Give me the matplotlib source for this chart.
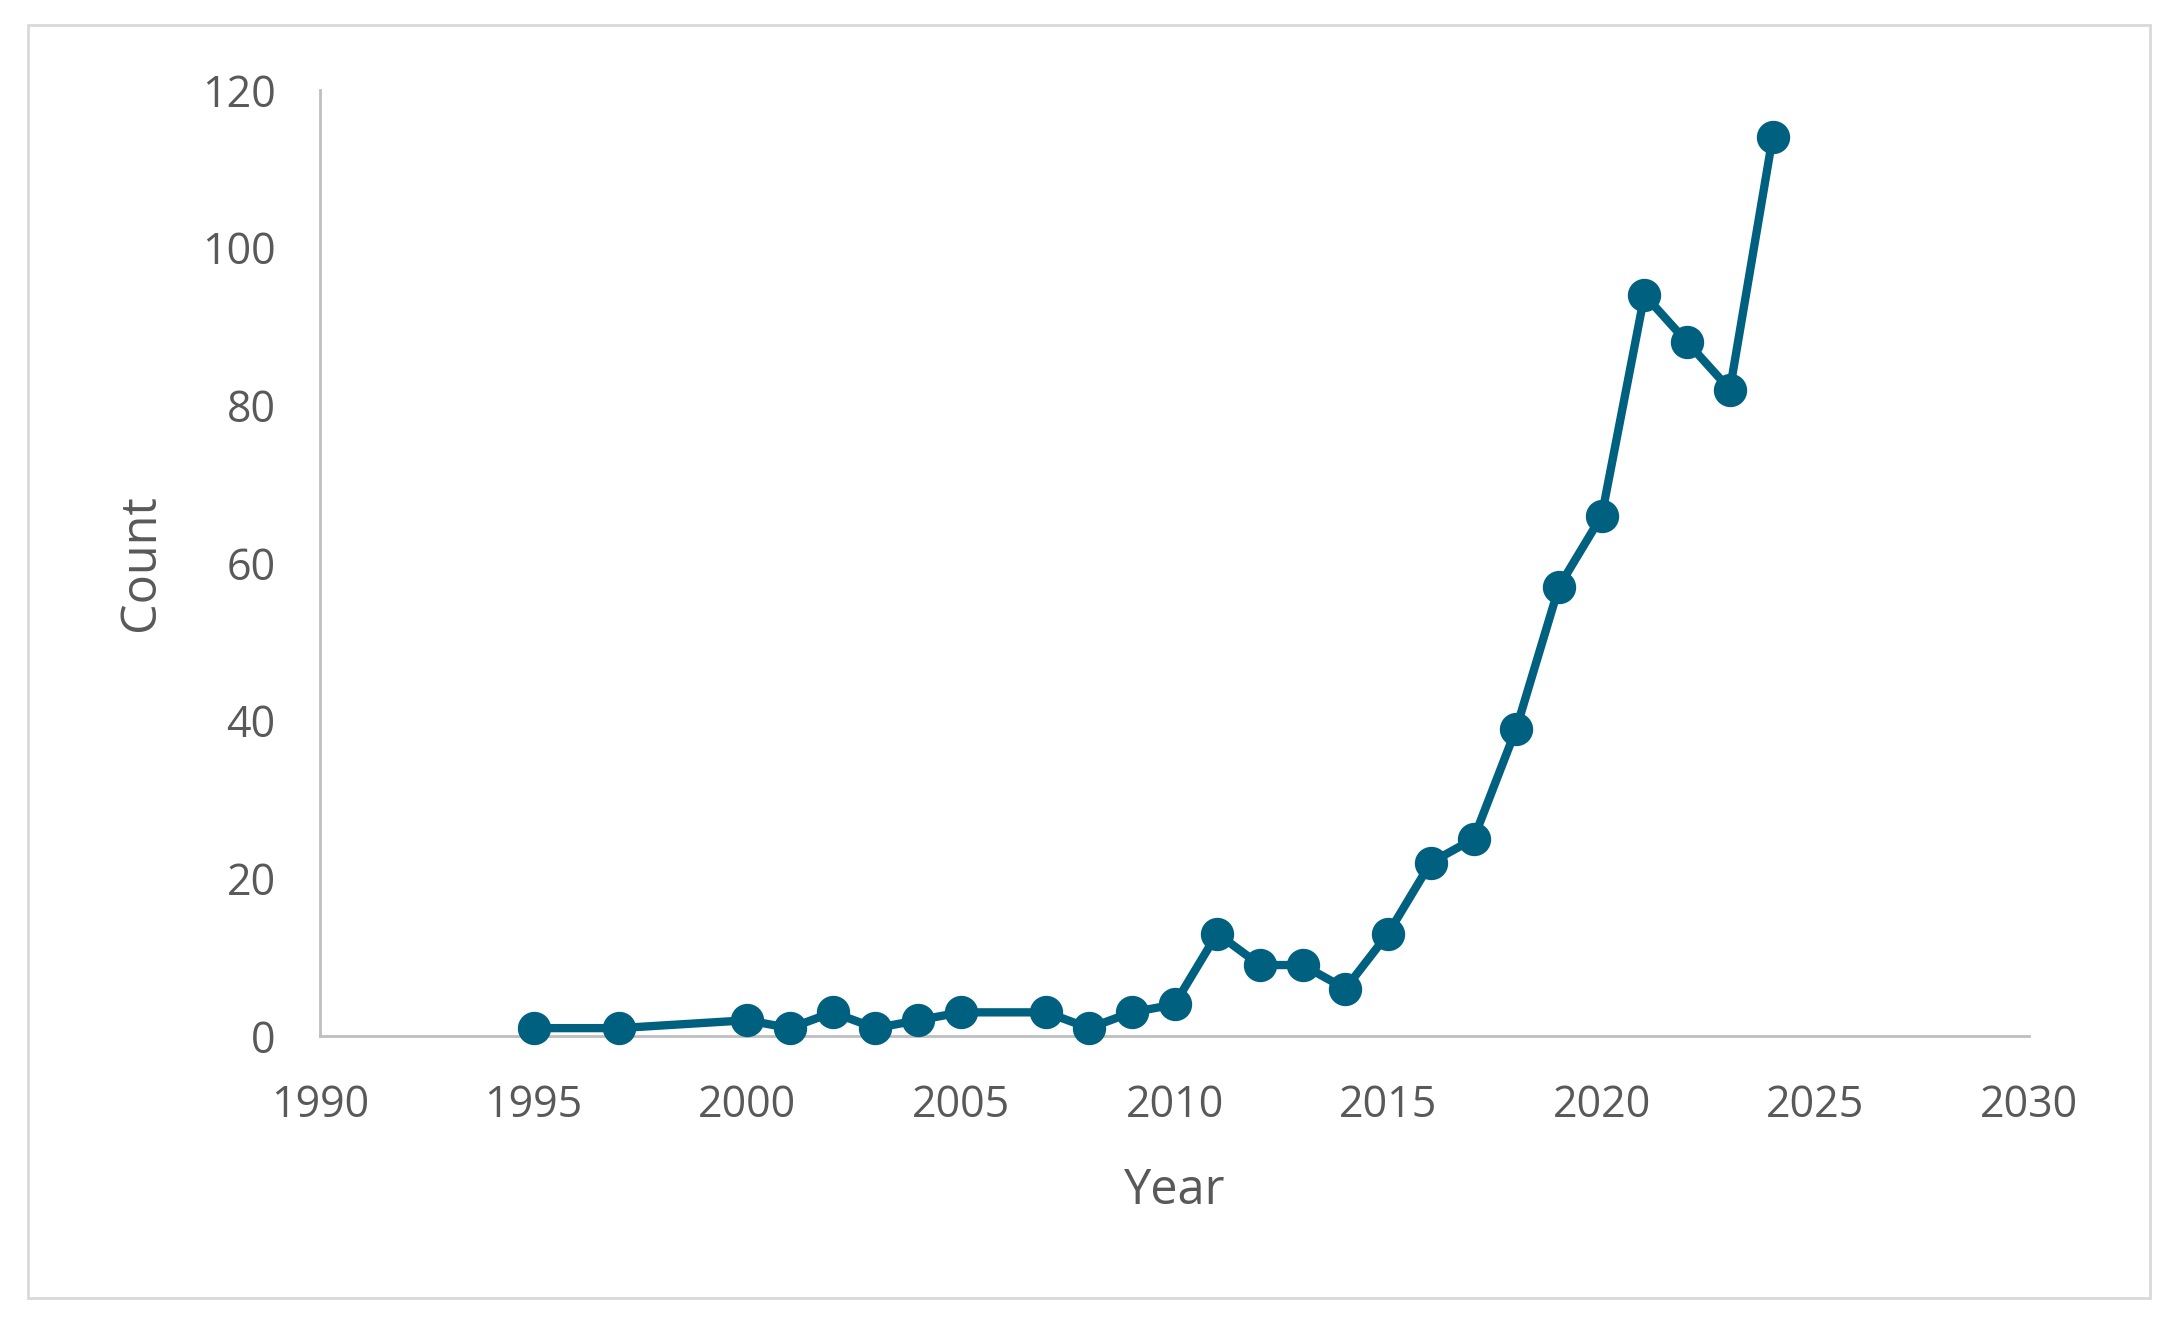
import matplotlib
matplotlib.use("Agg")
import matplotlib.pyplot as plt
from matplotlib.patches import Rectangle

# data
years = [1995, 1997, 2000, 2001, 2002, 2003, 2004, 2005, 2007, 2008, 2009, 2010,
         2011, 2012, 2013, 2014, 2015, 2016, 2017, 2018, 2019, 2020, 2021, 2022,
         2023, 2024]
counts = [1, 1, 2, 1, 3, 1, 2, 3, 3, 1, 3, 4,
          13, 9, 9, 6, 13, 22, 25, 39, 57, 66, 94, 88,
          82, 114]
x_ticks = [1990, 1995, 2000, 2005, 2010, 2015, 2020, 2025, 2030]
y_ticks = [0, 20, 40, 60, 80, 100, 120]

line_col = "#00607F"
text_col = "#595959"
axis_col = "#BFBFBF"

plt.rcParams['font.family'] = ['Open Sans', 'DejaVu Sans']

W, H = 2169, 1320
fig = plt.figure(figsize=(W / 100, H / 100), dpi=100)
fig.patch.set_facecolor("white")

# axes box in pixel coords: left 320, right 2029, top 90, bottom 1036
ax = fig.add_axes([320 / W, 1 - 1036 / H, (2029 - 320) / W, (1036 - 90) / H])

ax.plot(years, counts, color=line_col, lw=6, marker="o", ms=23,
        markerfacecolor=line_col, markeredgecolor=line_col, clip_on=False, zorder=3)

ax.set_xlim(1990, 2030)
ax.set_ylim(0, 120)
ax.set_xticks(x_ticks)
ax.set_yticks(y_ticks)

for s in ["top", "right"]:
    ax.spines[s].set_visible(False)
for s in ["left", "bottom"]:
    ax.spines[s].set_color(axis_col)
    ax.spines[s].set_linewidth(2)

ax.tick_params(axis="both", length=0, labelsize=31, labelcolor=text_col)
ax.tick_params(axis="y", pad=32)
ax.tick_params(axis="x", pad=34)

ax.set_xlabel("Year", fontsize=35, color=text_col, labelpad=28)
ax.set_ylabel("Count", fontsize=35, color=text_col, labelpad=26)

# light outer frame around the chart
fig.add_artist(Rectangle((28 / W, 1 - 1298 / H), (2150 - 28) / W, (1298 - 25) / H,
                         transform=fig.transFigure, fill=False,
                         edgecolor="#D9D9D9", lw=2))

fig.savefig("out.png", dpi=100)
